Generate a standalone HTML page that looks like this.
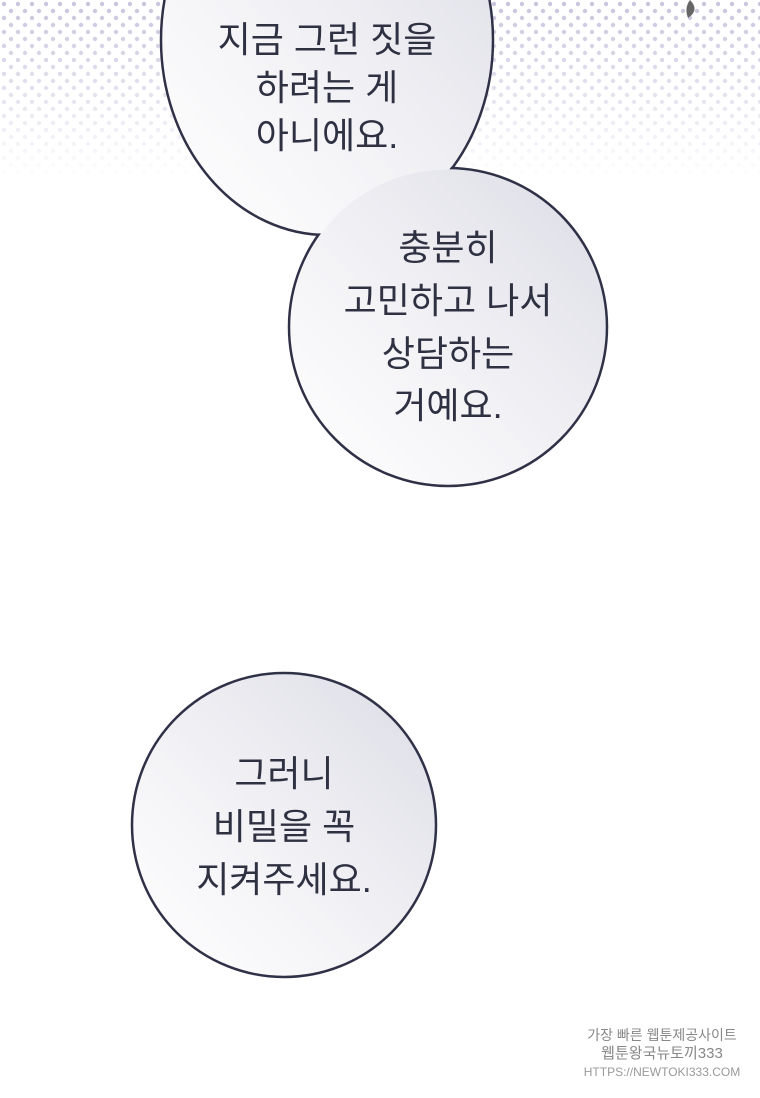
<!DOCTYPE html>
<html><head><meta charset="utf-8"><style>
html,body{margin:0;padding:0;background:#fff;width:760px;height:1098px;overflow:hidden}
svg{display:block}
text{font-family:"Liberation Sans","Noto Sans CJK KR",sans-serif;fill:#2e3142;font-size:36px;text-anchor:middle}
</style></head><body>
<svg width="760" height="1098" viewBox="0 0 760 1098">
<defs>
<pattern id="dots" width="14" height="14" patternUnits="userSpaceOnUse">
<circle cx="4" cy="4" r="2.2" fill="#c9c3dc"/><circle cx="11" cy="11" r="2.2" fill="#c9c3dc"/>
</pattern>
<linearGradient id="fade" x1="0" y1="0" x2="0" y2="1">
<stop offset="0" stop-color="#fff" stop-opacity="1"/><stop offset="1" stop-color="#fff" stop-opacity="0"/>
</linearGradient>
<mask id="m"><rect x="0" y="0" width="760" height="180" fill="url(#fade)"/></mask>
<linearGradient id="bg" x1="1" y1="0" x2="0" y2="1">
<stop offset="0" stop-color="#dcdce6"/><stop offset="0.6" stop-color="#f4f4f7"/><stop offset="1" stop-color="#ffffff"/>
</linearGradient>
</defs>
<rect x="0" y="0" width="760" height="180" fill="url(#dots)" mask="url(#m)"/>
<path d="M690 0 Q700 10 688 18 Q684 8 690 0Z" fill="#666"/>
<g stroke="#2f3147" stroke-width="2.5" fill="url(#bg)">
<ellipse cx="327" cy="40" rx="166" ry="195"/>
<circle cx="448" cy="327" r="159"/>
</g>
<g fill="url(#bg)">
<ellipse cx="327" cy="40" rx="164.5" ry="193.5"/>
<circle cx="448" cy="327" r="157.5"/>
</g>
<circle cx="284" cy="825" r="152" fill="url(#bg)" stroke="#2f3147" stroke-width="2.5"/>
<text x="327" y="-6">부러 내 말</text>
<text x="327" y="52">지금 그런 짓을</text>
<text x="327" y="100">하려는 게</text>
<text x="327" y="148">아니에요.</text>
<text x="448" y="260">충분히</text>
<text x="448" y="313">고민하고 나서</text>
<text x="448" y="366">상담하는</text>
<text x="448" y="418">거예요.</text>
<text x="284" y="786">그러니</text>
<text x="284" y="839">비밀을 꼭</text>
<text x="284" y="892">지켜주세요.</text>
<g style="font-size:14px" fill="#999">
<text x="662" y="1040" style="font-size:14px;fill:#888">가장 빠른 웹툰제공사이트</text>
<text x="662" y="1058" style="font-size:15px;fill:#888">웹툰왕국뉴토끼333</text>
<text x="662" y="1076" style="font-size:12px;fill:#999">HTTPS://NEWTOKI333.COM</text>
</g>
</svg>
</body></html>
